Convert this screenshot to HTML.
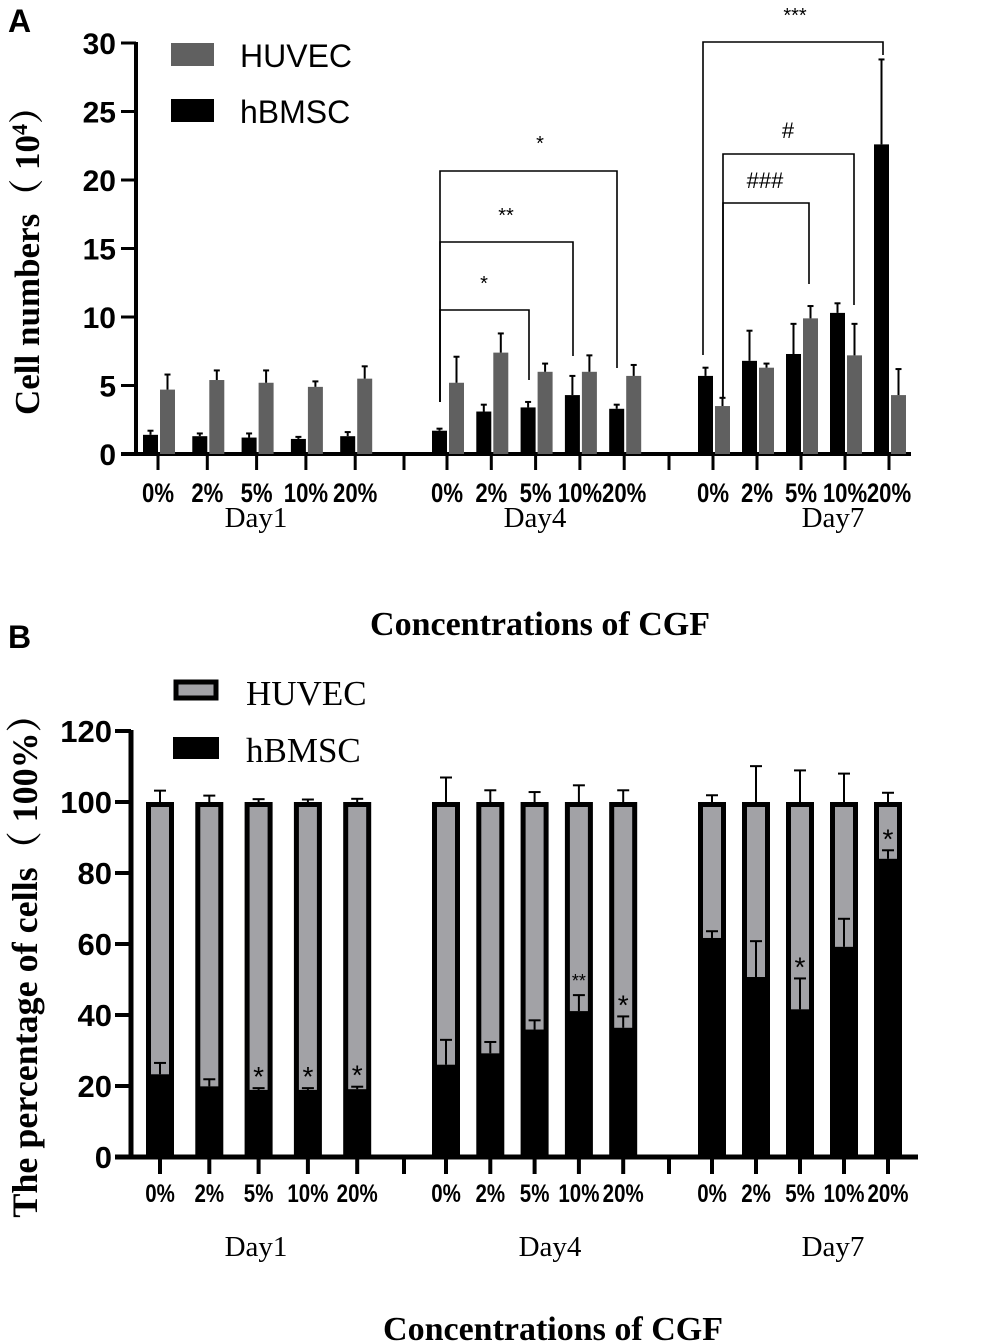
<!DOCTYPE html>
<html><head><meta charset="utf-8"><style>
html,body{margin:0;padding:0;background:#fff;}
svg{display:block;}
.ax{font-family:"Liberation Sans",Arial,sans-serif;font-weight:bold;}
.sf{font-family:"Liberation Serif","Noto Serif CJK SC",serif;}
</style></head><body>
<svg id="fig" width="981" height="1343" viewBox="0 0 981 1343" xmlns="http://www.w3.org/2000/svg">
<text x="8" y="32" class="ax" font-size="32">A</text>
<text x="8" y="648" class="ax" font-size="32">B</text>
<g id="A"></g>
<g id="B"></g>
</svg>
<script>
// ---- data ----
const days = ["Day1","Day4","Day7"];
const concentrations = ["0%","2%","5%","10%","20%"];
// Panel A: cell numbers (x10^4)
const aBMSC    = [1.4,1.3,1.2,1.1,1.3, 1.7,3.1,3.4,4.3,3.3, 5.7,6.8,7.3,10.3,22.6];
const aBMSCErr = [0.3,0.2,0.3,0.15,0.3, 0.15,0.5,0.4,1.4,0.3, 0.6,2.2,2.2,0.7,6.2];
const aHUVEC   = [4.7,5.4,5.2,4.9,5.5, 5.2,7.4,6.0,6.0,5.7, 3.5,6.3,9.9,7.2,4.3];
const aHUVECErr= [1.1,0.7,0.9,0.4,0.9, 1.9,1.4,0.6,1.2,0.8, 0.6,0.3,0.9,2.3,1.9];
const aTicks = [0,5,10,15,20,25,30];
// Panel B: percentages
const bBMSC    = [23.3,19.9,18.9,18.9,19.1, 26.0,29.2,35.9,41.1,36.4, 61.7,50.7,41.6,59.2,84.0];
const bBMSCErr = [3.2,2.0,0.5,0.5,0.7, 7.0,3.2,2.6,4.5,3.2, 1.9,10.1,8.7,7.9,2.4];
const bHUVECErr= [3.2,1.8,0.8,0.7,0.9, 6.9,3.3,2.8,4.7,3.3, 1.9,10.1,8.9,8.0,2.6];
const bTicks = [0,20,40,60,80,100,120];
const bStars = ["","","*","*","*", "","","","**","*", "","","*","","*"];

const NS="http://www.w3.org/2000/svg";
function mk(parent,tag,attrs,text){const e=document.createElementNS(NS,tag);for(const k in attrs)e.setAttribute(k,attrs[k]);if(text!==undefined)e.textContent=text;parent.appendChild(e);return e;}
function tickX(i){const g=Math.floor(i/5),j=i%5;
  if(g===0) return 158+j*49.3;
  if(g===1) return 447+j*44.3;
  return 713+j*44;}
const seps=[404,669];
function condensed(G,x,y,size,txt,name){
  const e=mk(G,'text',{x:0,y:0,'text-anchor':'middle','font-size':size,class:'ax',transform:`translate(${x},${y}) scale(0.82,1)`},txt);
  
  
  return e;
}

// ---------- Panel A ----------
(function(){
const G=document.getElementById('A');
const y0=454, y1=43, vmax=30;
const y=v=>y0-(v/vmax)*(y0-y1);
let e=mk(G,'line',{x1:136,y1:y(30)-1,x2:136,y2:y0+2,stroke:'#000','stroke-width':4});


e=mk(G,'line',{x1:121,y1:y0,x2:911,y2:y0,stroke:'#000','stroke-width':4});


aTicks.forEach(t=>{
  mk(G,'line',{x1:121,y1:y(t),x2:136,y2:y(t),stroke:'#000','stroke-width':3});
  e=mk(G,'text',{x:116,y:y(t)+11,'text-anchor':'end','font-size':30,class:'ax'},String(t));
  
  
});
for(let i=0;i<15;i++){
  const x=tickX(i);
  mk(G,'line',{x1:x,y1:y0,x2:x,y2:y0+16,stroke:'#000','stroke-width':3});
  condensed(G,x,y0+48,27,concentrations[i%5],'a-x-tick-label');
  e=mk(G,'rect',{x:x-15,y:y(aBMSC[i]),width:15,height:y0-y(aBMSC[i]),fill:'#000'});
  
  
  mk(G,'line',{x1:x-7.5,y1:y(aBMSC[i]),x2:x-7.5,y2:y(aBMSC[i]+aBMSCErr[i]),stroke:'#000','stroke-width':2});
  mk(G,'line',{x1:x-10.5,y1:y(aBMSC[i]+aBMSCErr[i]),x2:x-4.5,y2:y(aBMSC[i]+aBMSCErr[i]),stroke:'#000','stroke-width':2});
  e=mk(G,'rect',{x:x+2,y:y(aHUVEC[i]),width:15,height:y0-y(aHUVEC[i]),fill:'#606060'});
  
  
  mk(G,'line',{x1:x+9.5,y1:y(aHUVEC[i]),x2:x+9.5,y2:y(aHUVEC[i]+aHUVECErr[i]),stroke:'#000','stroke-width':2});
  mk(G,'line',{x1:x+6.5,y1:y(aHUVEC[i]+aHUVECErr[i]),x2:x+12.5,y2:y(aHUVEC[i]+aHUVECErr[i]),stroke:'#000','stroke-width':2});
}
seps.forEach(s=>mk(G,'line',{x1:s,y1:y0,x2:s,y2:y0+16,stroke:'#000','stroke-width':3}));
[256,535,833].forEach((cx,k)=>{e=mk(G,'text',{x:cx,y:527,'text-anchor':'middle','font-size':29,class:'sf'},days[k]);
  
  });
e=mk(G,'text',{x:540,y:635,'text-anchor':'middle','font-size':34,'font-weight':'bold',class:'sf'},'Concentrations of CGF');


e=mk(G,'text',{x:0,y:0,'text-anchor':'middle','font-size':35,'font-weight':'bold',class:'sf',transform:'translate(39,252) rotate(-90)'});


e.innerHTML='Cell numbers（ 10<tspan dy="-12" font-size="22">4</tspan><tspan dy="12">）</tspan>';
e=mk(G,'rect',{x:171,y:43,width:43,height:23,fill:'#606060'});


e=mk(G,'text',{x:240,y:67,'font-size':32,'font-family':'Liberation Sans, sans-serif'},'HUVEC');


e=mk(G,'rect',{x:171,y:99,width:43,height:23,fill:'#000'});


e=mk(G,'text',{x:240,y:123,'font-size':32,'font-family':'Liberation Sans, sans-serif'},'hBMSC');


const br=[[440,402,529,380,310,'*',484,290],[440,402,573,356,242,'**',506,222],[440,402,617,368,171,'*',540,150],
          [723,397,809,284,203,'###',765,188],[723,397,854,305,154,'#',788,138],[703,355,883,55,42,'***',795,22]];
br.forEach(b=>{e=mk(G,'polyline',{points:`${b[0]},${b[1]} ${b[0]},${b[4]} ${b[2]},${b[4]} ${b[2]},${b[3]}`,fill:'none',stroke:'#000','stroke-width':1.6});
  
  
  e=mk(G,'text',{x:b[6],y:b[7],'text-anchor':'middle','font-size':b[5].includes('#')?22:20,'font-family':'Liberation Sans, sans-serif'},b[5]);
  
  });
})();

// ---------- Panel B ----------
(function(){
const G=document.getElementById('B');
const y0=1157, y1=731, vmax=120;
const y=v=>y0-(v/vmax)*(y0-y1);
let e=mk(G,'line',{x1:131,y1:y(120)-1,x2:131,y2:y0+2,stroke:'#000','stroke-width':5});


e=mk(G,'line',{x1:115,y1:y0,x2:918,y2:y0,stroke:'#000','stroke-width':5});


bTicks.forEach(t=>{
  mk(G,'line',{x1:115,y1:y(t),x2:131,y2:y(t),stroke:'#000','stroke-width':4});
  e=mk(G,'text',{x:112,y:y(t)+11,'text-anchor':'end','font-size':31,class:'ax'},String(t));
  
  
});
for(let i=0;i<15;i++){
  const x=tickX(i)+(i<5?2:-1);
  mk(G,'line',{x1:x,y1:y0,x2:x,y2:y0+17,stroke:'#000','stroke-width':4});
  condensed(G,x,y0+45,25,concentrations[i%5],'b-x-tick-label');
  e=mk(G,'rect',{x:x-14,y:y(100),width:28,height:y0-y(100),fill:'#000'});
  
  
  e=mk(G,'rect',{x:x-9,y:y(100)+5,width:18,height:y(bBMSC[i])-y(100)-5,fill:'#a2a2a6'});
  
  
  const ue=y(100+bHUVECErr[i]);
  mk(G,'line',{x1:x,y1:y(100),x2:x,y2:ue,stroke:'#000','stroke-width':2});
  mk(G,'line',{x1:x-6,y1:ue,x2:x+6,y2:ue,stroke:'#000','stroke-width':2});
  const be=y(bBMSC[i]+bBMSCErr[i]);
  mk(G,'line',{x1:x,y1:y(bBMSC[i]),x2:x,y2:be,stroke:'#000','stroke-width':2});
  mk(G,'line',{x1:x-6,y1:be,x2:x+6,y2:be,stroke:'#000','stroke-width':2});
  if(bStars[i]){
    e=mk(G,'text',{x:x,y:be+(bStars[i]==='**'?-8:-2),'text-anchor':'middle','font-size':bStars[i]==='**'?18:28,'font-family':'Liberation Sans, sans-serif'},bStars[i]);
    
    
  }
}
seps.forEach(s=>mk(G,'line',{x1:s,y1:y0,x2:s,y2:y0+17,stroke:'#000','stroke-width':4}));
[256,550,833].forEach((cx,k)=>{e=mk(G,'text',{x:cx,y:1256,'text-anchor':'middle','font-size':29,class:'sf'},days[k]);
  
  });
e=mk(G,'text',{x:553,y:1340,'text-anchor':'middle','font-size':34,'font-weight':'bold',class:'sf'},'Concentrations of CGF');


e=mk(G,'text',{x:0,y:0,'text-anchor':'middle','font-size':36,'font-weight':'bold',class:'sf',transform:'translate(37,957) rotate(-90)'},'The percentage of cells（ 100%）');


e=mk(G,'rect',{x:176,y:682,width:40,height:16,fill:'#a2a2a6',stroke:'#000','stroke-width':5});


e=mk(G,'text',{x:246,y:705,'font-size':35,class:'sf'},'HUVEC');


e=mk(G,'rect',{x:173,y:737,width:46,height:22,fill:'#000'});


e=mk(G,'text',{x:246,y:762,'font-size':35,class:'sf'},'hBMSC');


})();
</script>
</body></html>
